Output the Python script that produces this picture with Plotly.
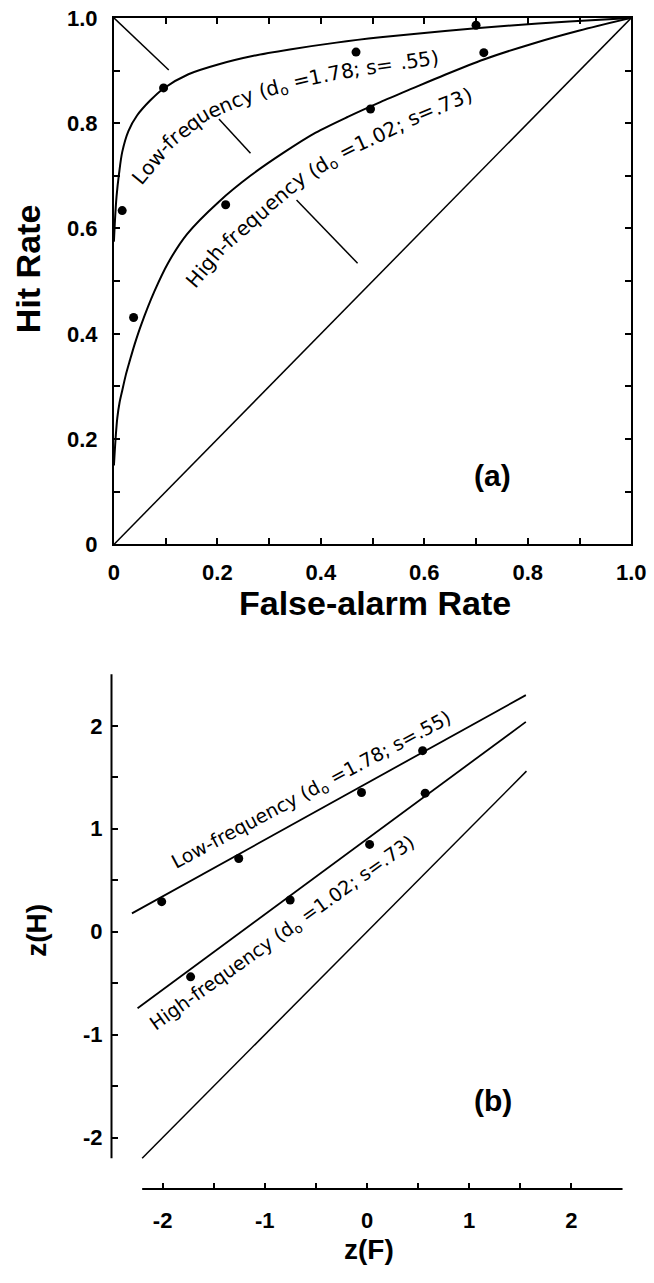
import math
import plotly.graph_objects as go

# ---------------- data ----------------
# Panel (a): ROC space
ROC_LOW_F = [0.0, 0.002, 0.005, 0.010, 0.016, 0.028, 0.045, 0.070, 0.096, 0.144,
             0.203, 0.270, 0.340, 0.430, 0.515, 0.640, 0.760, 0.880, 1.0]
ROC_LOW_H = [0.575, 0.615, 0.660, 0.705, 0.745, 0.785, 0.815, 0.843, 0.866, 0.893,
             0.912, 0.928, 0.940, 0.953, 0.963, 0.975, 0.985, 0.993, 1.0]
ROC_HIGH_F = [0.0, 0.0015, 0.0035, 0.0065, 0.011, 0.016, 0.023, 0.031, 0.040, 0.053,
              0.078, 0.105, 0.141, 0.203, 0.265, 0.328, 0.390, 0.452, 0.515, 0.577,
              0.640, 0.715, 0.809, 0.900, 1.0]
ROC_HIGH_H = [0.150, 0.175, 0.205, 0.240, 0.270, 0.292, 0.322, 0.350, 0.380, 0.418,
              0.480, 0.535, 0.589, 0.651, 0.701, 0.744, 0.782, 0.812, 0.840, 0.866,
              0.892, 0.921, 0.951, 0.976, 1.0]
PTS_LOW_F = [0.016, 0.096, 0.468, 0.700]
PTS_LOW_H = [0.634, 0.867, 0.935, 0.986]
PTS_HIGH_F = [0.038, 0.216, 0.496, 0.715]
PTS_HIGH_H = [0.431, 0.645, 0.827, 0.934]
CHANCE_F = [0.0, 1.0]
CHANCE_H = [0.0, 1.0]
NEG_DIAG_SEGS_F = [[0.0, 0.106], [0.203, 0.264], [0.353, 0.471]]
NEG_DIAG_SEGS_H = [[1.0, 0.901], [0.808, 0.743], [0.654, 0.534]]
TOP_TICKS = [0.0, 0.2, 0.4, 0.6, 0.8, 1.0]
TOP_TICK_TEXT = ["0", "0.2", "0.4", "0.6", "0.8", "1.0"]
TOP_MINOR = [0.1, 0.3, 0.5, 0.7, 0.9]

# Panel (b): z-ROC space
Z_LOW_PTS_X = [-2.009, -1.255, -0.054, 0.544]
Z_LOW_PTS_Y = [0.292, 0.711, 1.352, 1.759]
Z_HIGH_PTS_X = [-1.726, -0.752, 0.025, 0.569]
Z_HIGH_PTS_Y = [-0.438, 0.308, 0.848, 1.346]
Z_LOW_LINE_X = [-2.30, 1.554]
Z_LOW_LINE_Y = [0.178, 2.298]
Z_HIGH_LINE_X = [-2.245, 1.554]
Z_HIGH_LINE_Y = [-0.743, 2.038]
Z_CHANCE_X = [-2.2, 1.56]
Z_CHANCE_Y = [-2.2, 1.56]
Z_TICKS = [-2, -1, 0, 1, 2]
Z_TICK_TEXT = ["-2", "-1", "0", "1", "2"]
Z_MINOR = [-1.5, -0.5, 0.5, 1.5, 2.5]

LOW_LABEL = [("Low-frequency (d", False), ("o", True), (" =1.78; s= .55)", False)]
HIGH_LABEL = [("High-frequency (d", False), ("o", True), (" =1.02; s=.73)", False)]

# ---------------- layout geometry (pixels) ----------------
W, HT = 654, 1283
TOP_X0, TOP_X1 = 111.5, 646.0
TOP_Y0, TOP_Y1 = 6.0, 543.0          # pixel rows of H=1 and H=0
BOT_X0, BOT_X1 = 109.0, 637.0        # pixel cols of z=-2.5 and z=2.5
BOT_Y0, BOT_Y1 = 675.5, 1200.5       # pixel rows of z=2.5 and z=-2.5
Z_RANGE = [-2.5, 2.5]
Z_AXIS_START = -2.2

# label paths (text centre line) for curved labels in panel (a)
LOW_PATH_F = [0.0501, 0.1063, 0.1717, 0.2653, 0.3588, 0.4649, 0.6208]
LOW_PATH_H = [0.6978, 0.7659, 0.8156, 0.8560, 0.8808, 0.9026, 0.9242]
HIGH_PATH_F = [0.1562, 0.2123, 0.3588, 0.4462, 0.5085, 0.5959, 0.6838]
HIGH_PATH_H = [0.5047, 0.5698, 0.6946, 0.7473, 0.7752, 0.8188, 0.8529]

LABEL_FONT = "DejaVu Sans"
AX_FONT = "Liberation Sans"


def px(v):
    return v / W


def py(v):
    return 1 - v / HT


def top_to_px(f, h):
    return TOP_X0 + f * (TOP_X1 - TOP_X0), TOP_Y1 - h * (TOP_Y1 - TOP_Y0)


def px_to_top(x, y):
    return (x - TOP_X0) / (TOP_X1 - TOP_X0), (TOP_Y1 - y) / (TOP_Y1 - TOP_Y0)


WIDTHS = {'L': .557, 'o': .612, 'w': .818, '-': .361, 'f': .352, 'r': .411, 'e': .615,
          'q': .635, 'u': .634, 'n': .634, 'c': .55, 'y': .592, ' ': .318, '(': .39,
          ')': .39, 'd': .635, '=': .838, '1': .636, '.': .318, '7': .636, '8': .636,
          ';': .337, 's': .521, '5': .636, '0': .636, '2': .636, '3': .636, 'H': .752,
          'i': .278, 'g': .635, 'h': .634}


def curved_label(tokens, path_f, path_h, size, subsize):
    pts = [top_to_px(f, h) for f, h in zip(path_f, path_h)]
    cum = [0.0]
    for a, b in zip(pts[:-1], pts[1:]):
        cum.append(cum[-1] + math.dist(a, b))
    total = cum[-1]

    def at(s):
        s = max(0.0, min(total, s))
        for i in range(len(pts) - 1):
            if s <= cum[i + 1] or i == len(pts) - 2:
                seg = cum[i + 1] - cum[i]
                t = (s - cum[i]) / seg if seg else 0
                return (pts[i][0] + t * (pts[i + 1][0] - pts[i][0]),
                        pts[i][1] + t * (pts[i + 1][1] - pts[i][1]))

    chars = []
    for text, sub in tokens:
        for ch in text:
            chars.append((ch, sub))
    widths = [WIDTHS.get(ch, 0.6) * (subsize if sub else size) for ch, sub in chars]
    centers, acc = [], 0.0
    for w in widths:
        centers.append(acc + w / 2)
        acc += w
    scale = total / (centers[-1] - centers[0])
    anns = []
    for (ch, sub), c in zip(chars, centers):
        if ch == ' ':
            continue
        s = (c - centers[0]) * scale
        x, y = at(s)
        xa, ya = at(s - 9)
        xb, yb = at(s + 9)
        theta = math.degrees(math.atan2(-(yb - ya), xb - xa))
        xs = ys = 0
        if sub:
            r = math.radians(theta)
            xs, ys = 5 * math.sin(r), -5 * math.cos(r)
        f, h = px_to_top(x, y)
        anns.append(dict(x=f, y=h, xref='x', yref='y', text=ch, showarrow=False,
                         textangle=-theta, xanchor='center', yanchor='middle',
                         xshift=xs, yshift=ys,
                         font=dict(family=LABEL_FONT, size=subsize if sub else size,
                                   color='black')))
    return anns


fig = go.Figure()
BLACK = 'black'

# ---- panel (a) traces ----
fig.add_trace(go.Scatter(x=CHANCE_F, y=CHANCE_H, mode='lines',
                         line=dict(color=BLACK, width=1.5), xaxis='x', yaxis='y'))
for sf, sh in zip(NEG_DIAG_SEGS_F, NEG_DIAG_SEGS_H):
    fig.add_trace(go.Scatter(x=sf, y=sh, mode='lines',
                             line=dict(color=BLACK, width=1.5), xaxis='x', yaxis='y'))
fig.add_trace(go.Scatter(x=ROC_LOW_F, y=ROC_LOW_H, mode='lines',
                         line=dict(color=BLACK, width=2, shape='spline', smoothing=0.8),
                         xaxis='x', yaxis='y'))
fig.add_trace(go.Scatter(x=ROC_HIGH_F, y=ROC_HIGH_H, mode='lines',
                         line=dict(color=BLACK, width=2, shape='spline', smoothing=0.8),
                         xaxis='x', yaxis='y'))
fig.add_trace(go.Scatter(x=PTS_LOW_F + PTS_HIGH_F, y=PTS_LOW_H + PTS_HIGH_H, mode='markers',
                         marker=dict(color=BLACK, size=9), xaxis='x', yaxis='y'))

# ---- panel (b) traces ----
fig.add_trace(go.Scatter(x=Z_CHANCE_X, y=Z_CHANCE_Y, mode='lines',
                         line=dict(color=BLACK, width=1.5), xaxis='x2', yaxis='y2'))
fig.add_trace(go.Scatter(x=Z_LOW_LINE_X, y=Z_LOW_LINE_Y, mode='lines',
                         line=dict(color=BLACK, width=1.8), xaxis='x2', yaxis='y2'))
fig.add_trace(go.Scatter(x=Z_HIGH_LINE_X, y=Z_HIGH_LINE_Y, mode='lines',
                         line=dict(color=BLACK, width=1.8), xaxis='x2', yaxis='y2'))
fig.add_trace(go.Scatter(x=Z_LOW_PTS_X + Z_HIGH_PTS_X, y=Z_LOW_PTS_Y + Z_HIGH_PTS_Y,
                         mode='markers', marker=dict(color=BLACK, size=9),
                         xaxis='x2', yaxis='y2'))

tickfont = dict(family=AX_FONT, size=22, color=BLACK, weight='bold')
common = dict(showgrid=False, zeroline=False, ticks='inside', ticklen=6, tickwidth=1.5,
              tickcolor=BLACK, tickfont=tickfont, ticklabeloverflow='allow')
minor = dict(ticks='inside', ticklen=6, tickcolor=BLACK, tickwidth=1.5)

fig.update_layout(
    width=W, height=HT, margin=dict(l=0, r=0, t=0, b=0),
    paper_bgcolor='white', plot_bgcolor='white', showlegend=False,
    xaxis=dict(domain=[px(TOP_X0), px(TOP_X1)], range=[0, 1], anchor='y',
               tickvals=TOP_TICKS, ticktext=TOP_TICK_TEXT, showline=True, linewidth=2,
               linecolor=BLACK, mirror='ticks', ticklabelstandoff=7,
               minor=dict(tickvals=TOP_MINOR, **minor), **common),
    yaxis=dict(domain=[py(TOP_Y1), py(TOP_Y0)], range=[0, 1], anchor='x',
               tickvals=TOP_TICKS, ticktext=TOP_TICK_TEXT, showline=True, linewidth=2,
               linecolor=BLACK, mirror='ticks', ticklabelstandoff=10,
               minor=dict(tickvals=TOP_MINOR, **minor), **common),
    xaxis2=dict(domain=[px(BOT_X0), px(BOT_X1)], range=Z_RANGE, anchor='y2',
                tickvals=Z_TICKS, ticktext=Z_TICK_TEXT, showline=False, ticklabelstandoff=16,
                minor=dict(tickvals=Z_MINOR, **minor), **common),
    yaxis2=dict(domain=[py(BOT_Y1), py(BOT_Y0)], range=Z_RANGE, anchor='x2',
                tickvals=Z_TICKS, ticktext=Z_TICK_TEXT, showline=False, ticklabelstandoff=8,
                minor=dict(tickvals=Z_MINOR, **minor), **common),
)


# broken-style axis lines for panel (b), starting at -2.2
def bx(v):
    return px(BOT_X0 + (v - Z_RANGE[0]) / (Z_RANGE[1] - Z_RANGE[0]) * (BOT_X1 - BOT_X0))


def by(v):
    return py(BOT_Y1 - (v - Z_RANGE[0]) / (Z_RANGE[1] - Z_RANGE[0]) * (BOT_Y1 - BOT_Y0))


fig.add_shape(type='line', xref='paper', yref='paper', x0=bx(Z_AXIS_START), x1=bx(Z_RANGE[1]),
              y0=by(Z_RANGE[0]), y1=by(Z_RANGE[0]), line=dict(color=BLACK, width=2))
fig.add_shape(type='line', xref='paper', yref='paper', x0=bx(Z_RANGE[0]), x1=bx(Z_RANGE[0]),
              y0=by(Z_AXIS_START), y1=by(Z_RANGE[1]), line=dict(color=BLACK, width=2))

anns = []
anns += curved_label(LOW_LABEL, LOW_PATH_F, LOW_PATH_H, 20, 14)
anns += curved_label(HIGH_LABEL, HIGH_PATH_F, HIGH_PATH_H, 20, 14)

anns.append(dict(x=-0.54, y=1.371, xref='x2', yref='y2', showarrow=False, textangle=-28,
                 xanchor='center', yanchor='middle',
                 text="Low-frequency (d<sub>o</sub> =1.78; s=.55)",
                 font=dict(family=LABEL_FONT, size=19, color=BLACK)))
anns.append(dict(x=-0.823, y=-0.02, xref='x2', yref='y2', showarrow=False, textangle=-35.5,
                 xanchor='center', yanchor='middle',
                 text="High-frequency (d<sub>o</sub> =1.02; s=.73)",
                 font=dict(family=LABEL_FONT, size=19, color=BLACK)))

title_font = dict(family=AX_FONT, size=34, color=BLACK, weight='bold')
center = dict(xref='paper', yref='paper', showarrow=False, xanchor='center', yanchor='middle')
anns.append(dict(x=px(23), y=py(262), text="Hit Rate", textangle=-90, font=title_font, **center))
anns.append(dict(x=px(381), y=py(603), text="False-alarm Rate", font=title_font, **center))
zfont = dict(family=AX_FONT, size=28, color=BLACK, weight='bold')
anns.append(dict(x=px(32), y=py(936), text="z(H)", textangle=-90, font=zfont, **center))
anns.append(dict(x=px(375), y=py(1262), text="z(F)", font=zfont, **center))
anns.append(dict(x=0.732, y=0.13, xref='x', yref='y', showarrow=False, text="(a)",
                 xanchor='center', yanchor='middle',
                 font=dict(family=AX_FONT, size=30, color=BLACK, weight='bold')))
anns.append(dict(x=1.236, y=-1.638, xref='x2', yref='y2', showarrow=False, text="(b)",
                 xanchor='center', yanchor='middle',
                 font=dict(family=AX_FONT, size=30, color=BLACK, weight='bold')))

fig.update_layout(annotations=anns)
fig.write_html("out.html")
